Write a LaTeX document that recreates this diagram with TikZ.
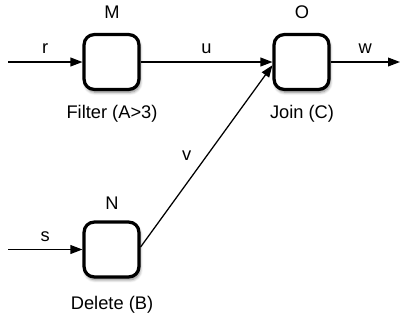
\documentclass[tikz,border=0pt]{standalone}
\usepackage{fontspec}
\setmainfont{Liberation Sans}
\usetikzlibrary{arrows.meta,shadows.blur}

\begin{document}
\begin{tikzpicture}[x=0.025cm, y=-0.025cm, font=\fontsize{13}{15}\selectfont,
  opbox/.style={draw, line width=2.3pt, rounded corners=0.25cm, fill=white,
    minimum size=1.37cm, blur shadow={shadow xshift=0.8pt, shadow yshift=-2pt, shadow blur steps=6, shadow opacity=50}},
  flow/.style={line width=0.9pt, -{Triangle[length=0.3cm, width=0.22cm]}}]
  \useasboundingbox (0,0) rectangle (401,325);
  \node[opbox] (M) at (111.5,62) {};
  \node[opbox] (O) at (301.5,62) {};
  \node[opbox] (N) at (111.5,249.5) {};
  \node at (112,12) {M}; \node at (302,12) {O}; \node at (112,203) {N};
  \node at (112,114) {Filter (A>3)};
  \node at (302,114) {Join (C)};
  \node at (112,305) {Delete (B)};
  \coordinate (rin) at (8,62); \coordinate (sin) at (8,249.5); \coordinate (wout) at (400,62);
  \draw[flow] (rin) -- node[above=2pt] {r} (M);
  \draw[flow] (sin) -- node[above=2pt] {s} (N);
  \draw[flow] (M) -- node[above=2pt] {u} (O);
  \draw[flow] (O) -- node[above=2pt] {w} (wout);
  \draw[flow] ([yshift=0.06cm]N.east) -- node[left=7pt] {v} ([yshift=-0.08cm]O.west);
\end{tikzpicture}
\end{document}
